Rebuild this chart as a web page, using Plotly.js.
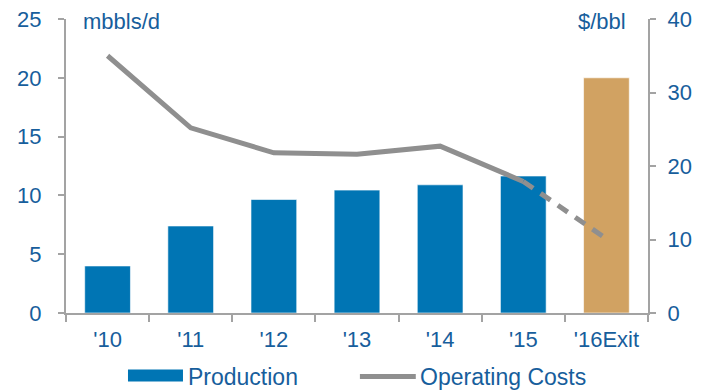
<!DOCTYPE html>
<html>
<head>
<meta charset="utf-8">
<script src="https://cdn.plot.ly/plotly-3.0.1.min.js"></script>
<style>html,body{margin:0;padding:0;background:#fff;}#chart{width:704px;height:390px;}</style>
</head>
<body>
<div id="chart"></div>
<script>
const categories = ["'10", "'11", "'12", "'13", "'14", "'15", "'16Exit"];
const production = [4.0, 7.4, 9.65, 10.45, 10.9, 11.65, 20.0];
const costSolidCats = ["'10", "'11", "'12", "'13", "'14", "'15"];
const costSolid = [35.0, 25.2, 21.8, 21.6, 22.7, 17.9];
const costDashCats = ["'15", "'16Exit"];
const costDash = [17.9, 10.1];
const barColors = ["#0075b4", "#0075b4", "#0075b4", "#0075b4", "#0075b4", "#0075b4", "#d1a262"];
const legendLabels = ["Production", "Operating Costs"];

const blueText = '#175e9c';
const axisGray = '#a3a3a3';
const lineGray = '#8f8f8f';
const fontFam = 'Liberation Sans, Arial, sans-serif';

const traces = [
  {
    type: 'bar', name: legendLabels[0], x: categories, y: production,
    marker: {color: barColors, line: {color: 'rgba(255,255,255,0.6)', width: 1}},
    width: 0.55, yaxis: 'y', hoverinfo: 'skip'
  },
  {
    type: 'scatter', mode: 'lines', name: legendLabels[1], x: costSolidCats, y: costSolid,
    line: {color: lineGray, width: 5}, yaxis: 'y2'
  },
  {
    type: 'scatter', mode: 'lines', name: 'Operating Costs (exit)', x: costDashCats, y: costDash,
    line: {color: lineGray, width: 5, dash: '12px,9px'}, yaxis: 'y2'
  }
];

const layout = {
  width: 704, height: 390,
  margin: {l: 66, r: 56, t: 19, b: 77},
  paper_bgcolor: '#fff', plot_bgcolor: '#fff',
  font: {family: fontFam, size: 22, color: blueText},
  showlegend: false,
  xaxis: {
    type: 'category', categoryorder: 'array', categoryarray: categories,
    showline: true, linecolor: axisGray, linewidth: 2,
    ticks: 'outside', tickson: 'boundaries', ticklen: 7, tickcolor: axisGray, tickwidth: 2,
    ticklabelstandoff: 6,
    tickfont: {size: 22, color: blueText}, showgrid: false, zeroline: false, automargin: false
  },
  yaxis: {
    range: [0, 25], dtick: 5, showline: true, linecolor: axisGray, linewidth: 2,
    ticks: 'outside', ticklen: 6, tickcolor: axisGray, tickwidth: 2, ticklabelstandoff: 12,
    tickfont: {size: 22, color: blueText}, showgrid: false, zeroline: false, automargin: false
  },
  yaxis2: {
    range: [0, 40], dtick: 10, overlaying: 'y', side: 'right',
    showline: true, linecolor: axisGray, linewidth: 2,
    ticks: 'outside', ticklen: 6, tickcolor: axisGray, tickwidth: 2, ticklabelstandoff: 7,
    tickfont: {size: 22, color: blueText}, showgrid: false, zeroline: false, automargin: false
  },
  shapes: [
    {type: 'rect', xref: 'paper', yref: 'paper', x0: 0.1065, x1: 0.201, y0: -0.2326, y1: -0.1919,
     fillcolor: '#0075b4', line: {width: 0}},
    {type: 'line', xref: 'paper', yref: 'paper', x0: 0.505, x1: 0.601, y0: -0.2156, y1: -0.2156,
     line: {color: lineGray, width: 5}}
  ],
  annotations: [
    {text: 'mbbls/d', xref: 'paper', yref: 'paper', x: 0.026, y: 0.99, xanchor: 'left', yanchor: 'middle',
     showarrow: false, font: {size: 22, color: blueText}},
    {text: '$/bbl', xref: 'paper', yref: 'paper', x: 0.966, y: 0.99, xanchor: 'right', yanchor: 'middle',
     showarrow: false, font: {size: 22, color: blueText}},
    {text: legendLabels[0], xref: 'paper', yref: 'paper', x: 0.206, y: -0.218, xanchor: 'left', yanchor: 'middle',
     showarrow: false, font: {size: 23, color: blueText}},
    {text: legendLabels[1], xref: 'paper', yref: 'paper', x: 0.604, y: -0.218, xanchor: 'left', yanchor: 'middle',
     showarrow: false, font: {size: 23, color: blueText}}
  ]
};

Plotly.newPlot('chart', traces, layout, {displayModeBar: false, staticPlot: true});
</script>
</body>
</html>
